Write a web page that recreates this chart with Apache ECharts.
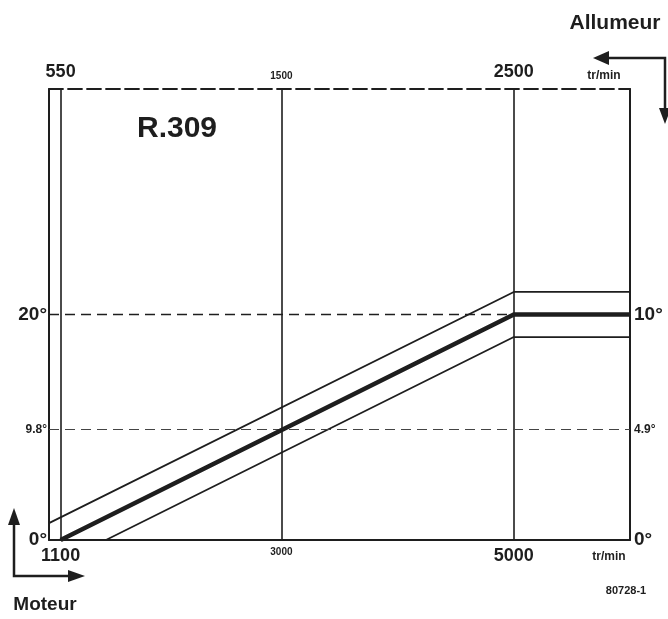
<!DOCTYPE html>
<html>
<head>
<meta charset="utf-8">
<script src="https://cdn.jsdelivr.net/npm/echarts@6/dist/echarts.min.js"></script>
<style>
  html, body { margin: 0; padding: 0; background: #fff; }
  #chart { width: 668px; height: 619px; }
</style>
</head>
<body>
<div id="chart"></div>
<script>
// engine speed (tr/min) and advance (degrees, engine)
const nominalRpm = [1100, 5000, 6000];
const nominalAdv = [0, 20, 20];
const upperRpm = [1000, 5000, 6000];
const upperAdv = [1.5, 22, 22];
const lowerRpm = [1490, 5000, 6000];
const lowerAdv = [0, 18, 18];

// tick labels
const engineTicks = [1100, 3000, 5000];
const distributorTicks = [550, 1500, 2500];
const engineDegTicks = [0, 9.8, 20];
const distributorDegTicks = [0, 4.9, 10];

const FONT = "'Liberation Sans Narrow', 'Liberation Sans', Arial, sans-serif";
const INK = "#1e1e1e";

const zip = (xs, ys) => xs.map((x, i) => [x, ys[i]]);

const chart = echarts.init(document.getElementById("chart"), null, { renderer: "canvas" });

const bigSmall = {
  b: { fontSize: 18, fontWeight: "bold", fontFamily: FONT, color: INK },
  s: { fontSize: 10, fontWeight: "bold", fontFamily: FONT, color: INK },
};

const option = {
  backgroundColor: "#fff",
  animation: false,
  grid: { left: 49, right: 38, top: 89, bottom: 79 },
  xAxis: [
    {
      type: "value",
      position: "bottom",
      min: 1000,
      max: 6000,
      axisLine: { show: true, onZero: false, lineStyle: { color: INK, width: 2 } },
      axisTick: { show: false },
      splitLine: { show: false },
      axisLabel: {
        customValues: engineTicks,
        margin: 7,
        formatter: (v) => (v === 3000 ? "{s|" + v + "}" : "{b|" + v + "}"),
        rich: bigSmall,
      },
    },
    {
      type: "value",
      position: "top",
      min: 1000,
      max: 6000,
      axisLine: { show: true, onZero: false, lineStyle: { color: INK, width: 1.8, type: [14, 5] } },
      axisTick: { show: false },
      splitLine: { show: false },
      axisLabel: {
        customValues: engineTicks,
        margin: 8,
        formatter: (v) => {
          const t = distributorTicks[engineTicks.indexOf(v)];
          return t === 1500 ? "{s|" + t + "}" : "{b|" + t + "}";
        },
        rich: bigSmall,
      },
    },
  ],
  yAxis: [
    {
      type: "value",
      position: "left",
      min: 0,
      max: 40,
      axisLine: { show: true, onZero: false, lineStyle: { color: INK, width: 2 } },
      axisTick: { show: false },
      splitLine: { show: false },
      axisLabel: {
        customValues: engineDegTicks,
        margin: 2,
        formatter: (v) => (v === 9.8 ? "{s|9.8°}" : "{b|" + v + "°}"),
        rich: {
          b: { fontSize: 19, fontWeight: "bold", fontFamily: FONT, color: INK },
          s: { fontSize: 12, fontWeight: "bold", fontFamily: FONT, color: INK },
        },
      },
    },
    {
      type: "value",
      position: "right",
      min: 0,
      max: 20,
      axisLine: { show: true, onZero: false, lineStyle: { color: INK, width: 2 } },
      axisTick: { show: false },
      splitLine: { show: false },
      axisLabel: {
        customValues: distributorDegTicks,
        margin: 4,
        formatter: (v) => (v === 4.9 ? "{s|4.9°}" : "{b|" + v + "°}"),
        rich: {
          b: { fontSize: 19, fontWeight: "bold", fontFamily: FONT, color: INK },
          s: { fontSize: 12, fontWeight: "bold", fontFamily: FONT, color: INK },
        },
      },
    },
  ],
  series: [
    {
      name: "nominal",
      type: "line",
      data: zip(nominalRpm, nominalAdv),
      symbol: "none",
      z: 5,
      lineStyle: { color: INK, width: 4.5 },
      markLine: {
        silent: true,
        symbol: "none",
        label: { show: false },
        lineStyle: { color: INK, width: 1.6, type: "solid" },
        data: [
          ...engineTicks.map((v) => ({ xAxis: v })),
          { yAxis: 20, lineStyle: { type: [10, 6], width: 1.4 } },
          { yAxis: 9.8, lineStyle: { type: [10, 6], width: 1.2, color: "#444" } },
        ],
      },
    },
    {
      name: "upper",
      type: "line",
      data: zip(upperRpm, upperAdv),
      symbol: "none",
      z: 4,
      lineStyle: { color: INK, width: 1.8 },
    },
    {
      name: "lower",
      type: "line",
      data: zip(lowerRpm, lowerAdv),
      symbol: "none",
      z: 4,
      lineStyle: { color: INK, width: 1.8 },
    },
  ],
  graphic: [
    { type: "text", left: 137, top: 114, style: { text: "R.309", font: "bold 30px " + FONT, fill: INK } },
    { type: "text", x: 615, y: 23, style: { text: "Allumeur", font: "bold 21px " + FONT, fill: INK, align: "center", verticalAlign: "middle" } },
    { type: "text", x: 45, y: 605, style: { text: "Moteur", font: "bold 19px " + FONT, fill: INK, align: "center", verticalAlign: "middle" } },
    { type: "text", x: 604, y: 76, style: { text: "tr/min", font: "bold 12px " + FONT, fill: INK, align: "center", verticalAlign: "middle" } },
    { type: "text", x: 609, y: 557, style: { text: "tr/min", font: "bold 12px " + FONT, fill: INK, align: "center", verticalAlign: "middle" } },
    { type: "text", x: 626, y: 591, style: { text: "80728-1", font: "bold 11px " + FONT, fill: INK, align: "center", verticalAlign: "middle" } },
    // distributor arrows (top right)
    { type: "polyline", shape: { points: [[606, 58], [665, 58], [665, 110]] }, style: { stroke: INK, lineWidth: 2.5, fill: null } },
    { type: "polygon", shape: { points: [[593, 58], [609, 51], [609, 65]] }, style: { fill: INK } },
    { type: "polygon", shape: { points: [[665, 124], [659, 108], [671, 108]] }, style: { fill: INK } },
    // engine arrows (bottom left)
    { type: "polyline", shape: { points: [[14, 523], [14, 576], [70, 576]] }, style: { stroke: INK, lineWidth: 2.5, fill: null } },
    { type: "polygon", shape: { points: [[14, 508], [8, 525], [20, 525]] }, style: { fill: INK } },
    { type: "polygon", shape: { points: [[85, 576], [68, 570], [68, 582]] }, style: { fill: INK } },
  ],
};

chart.setOption(option);
</script>
</body>
</html>
